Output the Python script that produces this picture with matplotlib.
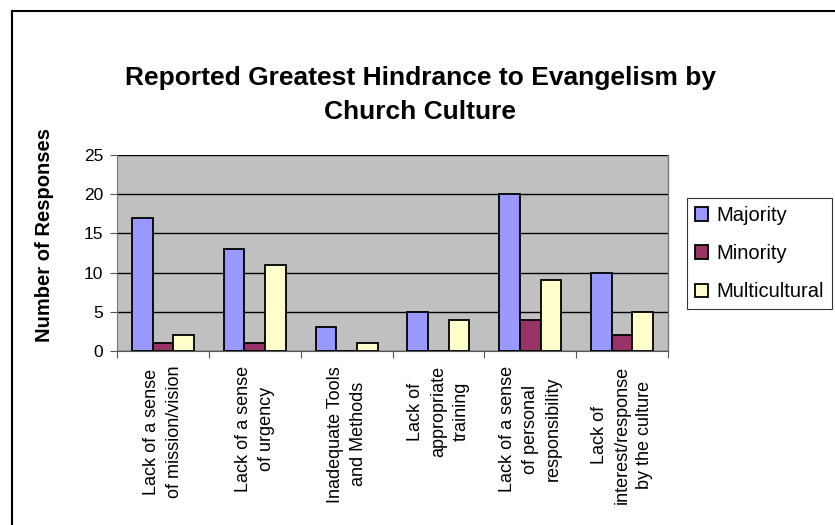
import matplotlib.pyplot as plt
import numpy as np
from matplotlib.lines import Line2D

plt.rcParams['font.family'] = ['Liberation Sans', 'DejaVu Sans']

# Data
categories = [
    "Lack of a sense\nof mission/vision",
    "Lack of a sense\nof urgency",
    "Inadequate Tools\nand Methods",
    "Lack of\nappropriate\ntraining",
    "Lack of a sense\nof personal\nresponsibility",
    "Lack of\ninterest/response\nby the culture",
]
majority = [17, 13, 3, 5, 20, 10]
minority = [1, 1, 0, 0, 4, 2]
multicultural = [2, 11, 1, 4, 9, 5]
series_names = ["Majority", "Minority", "Multicultural"]
colors = ["#9999FF", "#993366", "#FFFFCC"]
yticks = [0, 5, 10, 15, 20, 25]

fig = plt.figure(figsize=(8.35, 5.25), dpi=100)
ax = fig.add_axes([117/835, 1-351/525, (668-117)/835, (351-155)/525])
ax.set_facecolor("#C0C0C0")

x = np.arange(len(categories))
w = 0.225
bars = []
for i, (vals, c, name) in enumerate(zip([majority, minority, multicultural], colors, series_names)):
    b = ax.bar(x + (i - 1) * w, vals, w, color=c, edgecolor="black", linewidth=1.3,
               label=name, zorder=3)
    bars.append(b)

ax.set_xlim(-0.5, len(categories) - 0.5)
ax.set_ylim(0, 25)
ax.set_yticks(yticks)
ax.set_yticklabels([str(v) for v in yticks], fontsize=12.5)
ax.yaxis.grid(True, color="black", linewidth=1, zorder=1)
ax.set_axisbelow(True)

# category ticks sit between groups
ax.set_xticks(np.arange(len(categories) + 1) - 0.5)
ax.set_xticklabels([])
ax.tick_params(axis="both", direction="out", length=5, color="#555555")
ax.tick_params(axis="y", pad=5)
for xi, lab in zip(x, categories):
    ax.text(xi, -1.9, lab, rotation=90, ha="center", va="top", fontsize=13,
            multialignment="center", linespacing=1.45)

for s in ["top", "right"]:
    ax.spines[s].set_visible(False)
ax.spines["left"].set_color("#777777")
ax.spines["bottom"].set_color("#555555")
ax.plot([1, 1], [0, 1], transform=ax.transAxes, color="#777777", linewidth=1, clip_on=False)

fig.text(0.503, 1-78/525, "Reported Greatest Hindrance to Evangelism by", ha="center",
         va="center", fontsize=19, fontweight="bold")
fig.text(0.503, 1-112/525, "Church Culture", ha="center", va="center",
         fontsize=19, fontweight="bold")
fig.text(45/835, 1-235/525, "Number of Responses", rotation=90, ha="center", va="center",
         fontsize=14.5, fontweight="bold")

leg = fig.legend(handles=[b[0] for b in bars], labels=series_names, loc="upper left",
                 bbox_to_anchor=(687/835, 1-198/525), fontsize=14.5, frameon=True,
                 fancybox=False, edgecolor="black", handlelength=0.65, handleheight=0.65,
                 handletextpad=0.4, labelspacing=0.95, borderpad=0.4, borderaxespad=0)
leg.get_frame().set_linewidth(0.8)

# outer chart frame (left and top edges)
fig.add_artist(Line2D([12/835, 12/835], [0, 1-11/525], transform=fig.transFigure,
                      color="black", linewidth=1.5))
fig.add_artist(Line2D([12/835, 1], [1-11/525, 1-11/525], transform=fig.transFigure,
                      color="black", linewidth=1.5))

fig.savefig("out.png", dpi=100)
